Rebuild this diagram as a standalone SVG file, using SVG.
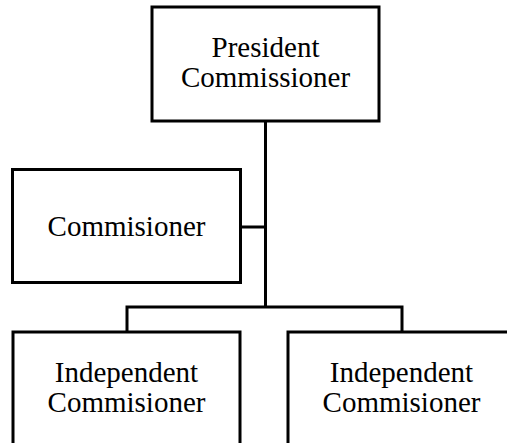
<svg xmlns="http://www.w3.org/2000/svg" width="507" height="443" viewBox="0 0 507 443">
<style>
.box{fill:#fff;stroke:#000;stroke-width:3}
.t{font-family:"Liberation Serif","Times New Roman",serif;font-size:29px;fill:#000;text-anchor:middle}
.c{fill:none;stroke:#000;stroke-width:3}
</style>
<rect width="507" height="443" fill="#fff"/>
<g id="connectors">
<path class="c" d="M265.5 121V307M241 227H265.5M127 332V307H402V332"/>
</g>
<g id="president">
<rect class="box" x="152" y="7" width="227" height="114"/>
<text class="t" x="265.5" y="57">President</text>
<text class="t" x="265.5" y="87">Commissioner</text>
</g>
<g id="commissioner">
<rect class="box" x="12.5" y="169.5" width="228" height="113"/>
<text class="t" x="126.5" y="236">Commisioner</text>
</g>
<g id="independent1">
<rect class="box" x="13" y="332" width="227" height="130"/>
<text class="t" x="126.5" y="382">Independent</text>
<text class="t" x="126.5" y="412">Commisioner</text>
</g>
<g id="independent2">
<rect class="box" x="288" y="332" width="227" height="130"/>
<text class="t" x="401.5" y="382">Independent</text>
<text class="t" x="401.5" y="412">Commisioner</text>
</g>
</svg>
